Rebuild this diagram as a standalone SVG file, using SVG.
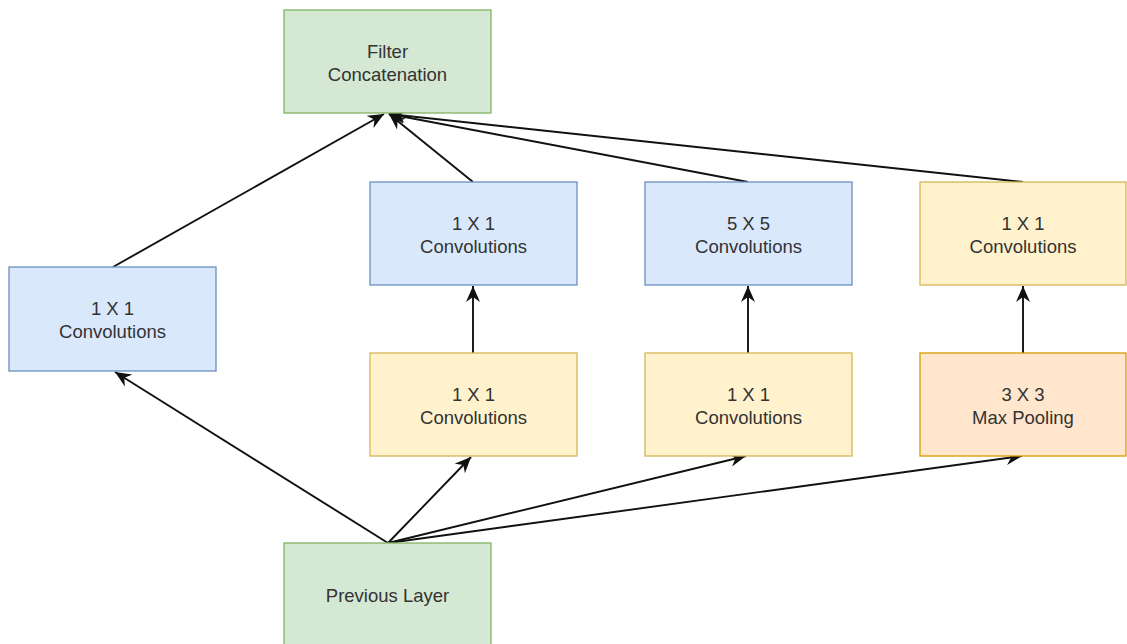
<svg xmlns="http://www.w3.org/2000/svg" width="1127" height="644" viewBox="0 0 1127 644">
  <style>
    .box { stroke-width: 1.3; }
    .green { fill: #d5e8d4; stroke: #82b366; }
    .blue { fill: #dae8fc; stroke: #6c8ebf; }
    .yellow { fill: #fff2cc; stroke: #d6b656; }
    .orange { fill: #ffe6cc; stroke: #d79b00; }
    .label { font-family: "Liberation Sans", Arial, sans-serif; font-size: 18.5px; fill: #333333; text-anchor: middle; }
    .edge { stroke: #111; stroke-width: 1.9; fill: none; marker-end: url(#arrow); }
  </style>
  <defs>
    <marker id="arrow" markerUnits="userSpaceOnUse" markerWidth="18" markerHeight="16" viewBox="0 0 18 16" refX="16" refY="8" orient="auto">
      <path d="M0,1 L16,8 L0,15 L5,8 Z" fill="#111"/>
    </marker>
  </defs>
  <rect width="1127" height="644" fill="#ffffff"/>

  <g id="connectors">
    <!-- from Previous Layer -->
    <line class="edge" x1="388" y1="543" x2="115" y2="372"/>
    <line class="edge" x1="388" y1="543" x2="471" y2="457"/>
    <line class="edge" x1="388" y1="543" x2="746" y2="456"/>
    <line class="edge" x1="388" y1="543" x2="1022" y2="456"/>
    <!-- second stage -->
    <line class="edge" x1="473" y1="353" x2="473" y2="286"/>
    <line class="edge" x1="748" y1="353" x2="748" y2="286"/>
    <line class="edge" x1="1023" y1="353" x2="1023" y2="286"/>
    <!-- into Filter Concatenation -->
    <line class="edge" x1="113" y1="267" x2="384" y2="114"/>
    <line class="edge" x1="473" y1="182" x2="389" y2="114"/>
    <line class="edge" x1="748" y1="182" x2="389" y2="114"/>
    <line class="edge" x1="1023" y1="182" x2="389" y2="114"/>
  </g>

  <g id="filter-concat">
    <rect class="box green" x="284" y="10" width="207" height="103"/>
    <text class="label" x="387.5" y="58">Filter</text>
    <text class="label" x="387.5" y="81">Concatenation</text>
  </g>

  <g id="conv1x1-left">
    <rect class="box blue" x="9" y="267" width="207" height="104"/>
    <text class="label" x="112.5" y="315">1 X 1</text>
    <text class="label" x="112.5" y="338">Convolutions</text>
  </g>

  <g id="conv1x1-top">
    <rect class="box blue" x="370" y="182" width="207" height="103"/>
    <text class="label" x="473.5" y="230">1 X 1</text>
    <text class="label" x="473.5" y="253">Convolutions</text>
  </g>

  <g id="conv5x5">
    <rect class="box blue" x="645" y="182" width="207" height="103"/>
    <text class="label" x="748.5" y="230">5 X 5</text>
    <text class="label" x="748.5" y="253">Convolutions</text>
  </g>

  <g id="conv1x1-pool">
    <rect class="box yellow" x="920" y="182" width="206" height="103"/>
    <text class="label" x="1023" y="230">1 X 1</text>
    <text class="label" x="1023" y="253">Convolutions</text>
  </g>

  <g id="conv1x1-reduce-a">
    <rect class="box yellow" x="370" y="353" width="207" height="103"/>
    <text class="label" x="473.5" y="401">1 X 1</text>
    <text class="label" x="473.5" y="424">Convolutions</text>
  </g>

  <g id="conv1x1-reduce-b">
    <rect class="box yellow" x="645" y="353" width="207" height="103"/>
    <text class="label" x="748.5" y="401">1 X 1</text>
    <text class="label" x="748.5" y="424">Convolutions</text>
  </g>

  <g id="maxpool">
    <rect class="box orange" x="920" y="353" width="206" height="103"/>
    <text class="label" x="1023" y="401">3 X 3</text>
    <text class="label" x="1023" y="424">Max Pooling</text>
  </g>

  <g id="previous-layer">
    <rect class="box green" x="284" y="543" width="207" height="110"/>
    <text class="label" x="387.5" y="602">Previous Layer</text>
  </g>
</svg>
